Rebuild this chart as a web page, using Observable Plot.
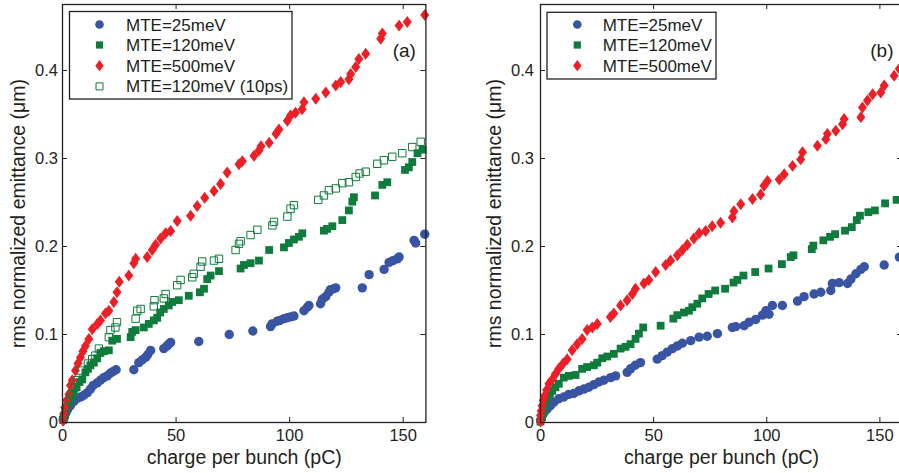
<!DOCTYPE html>
<html><head><meta charset="utf-8">
<script src="https://cdn.jsdelivr.net/npm/d3@7"></script>
<script src="https://cdn.jsdelivr.net/npm/@observablehq/plot@0.6"></script>
<style>
html,body{margin:0;padding:0;background:#fff;}
#wrap{position:relative;width:899px;height:473px;overflow:hidden;font-family:"Liberation Sans",Arial,Helvetica,sans-serif;color:#231f20;}
.panel{position:absolute;top:0;}
#legend{position:absolute;left:0;top:0;}
</style></head><body><div id="wrap"></div>
<script>
// ---- labels / ticks ----
const xTicks = [0, 50, 100, 150];
const yTicks = [0, 0.1, 0.2, 0.3, 0.4];
const xLabel = "charge per bunch (pC)";
const yLabel = "rms normalized emittance (\u03bcm)";
const seriesNamesA = ["MTE=25meV", "MTE=120meV", "MTE=500meV", "MTE=120meV (10ps)"];
const seriesNamesB = ["MTE=25meV", "MTE=120meV", "MTE=500meV"];

// ---- panel (a) ----
const a25x = [0.3,0.8,1.5,2.3,3.5,5,6.3,8,9.4,11,12.3,13.5,15.3,16.7,18.2,19.7,21,22.3,23.6,31.4,33.6,35,36.6,37.5,38.8,44.6,46,46.8,47.6,60,73.4,83.8,91.6,92.3,94.5,95.8,97.5,99,100.4,101.9,106.3,107.8,108.5,113.6,114.4,115.9,117.3,118,119.5,120.3,132,135,141.6,143.8,145.5,147.4,148.2,154.8,155.5,159.5];
const a25y = [0.003,0.006,0.011,0.015,0.019,0.024,0.027,0.029,0.031,0.034,0.038,0.042,0.045,0.048,0.051,0.053,0.056,0.058,0.060,0.060,0.068,0.071,0.074,0.077,0.082,0.084,0.087,0.089,0.091,0.092,0.100,0.104,0.109,0.112,0.115,0.116,0.118,0.119,0.120,0.121,0.127,0.131,0.133,0.135,0.140,0.143,0.148,0.151,0.152,0.153,0.153,0.168,0.174,0.182,0.184,0.186,0.188,0.207,0.204,0.214];
const a120x = [0.3,0.8,1.3,2,2.8,3.8,5,6.2,7.5,8.7,10.1,11.2,12.3,13.8,15.3,16.7,18.2,20.4,21.9,24,30,30.7,32.2,35.8,38,40.2,41.7,43,44.6,46.8,48.3,51.2,55.6,60.5,62.3,63.7,65.2,68.9,78.4,79.9,82.8,86.5,91,97.5,99.7,101.9,104.1,105.6,115.1,116.5,118.8,123.2,126.1,127.6,128.3,137.6,140.8,143,150.8,152.5,154,156.3,158.5];
const a120y = [0.003,0.008,0.012,0.017,0.023,0.029,0.034,0.040,0.046,0.049,0.057,0.061,0.065,0.068,0.073,0.079,0.081,0.082,0.093,0.095,0.097,0.103,0.105,0.108,0.112,0.116,0.119,0.125,0.129,0.133,0.137,0.139,0.144,0.148,0.152,0.163,0.167,0.172,0.175,0.179,0.181,0.184,0.196,0.199,0.204,0.208,0.211,0.215,0.218,0.220,0.223,0.230,0.241,0.251,0.256,0.258,0.270,0.273,0.287,0.290,0.296,0.306,0.310];
const a500x = [0.3,0.6,1,1.8,2.8,3.5,4.3,5.7,6.8,7.9,9,10.1,11.6,13.1,15.3,16.7,18.9,20.4,22.6,24,25,29.2,31.4,32.2,37.3,39.5,41,43.2,45.4,47.6,50.5,56.4,59.3,62.6,66.7,69.6,72.5,77.7,79.2,84.3,86.5,87.4,91,94,95.3,99,100.4,102.6,105.5,106.3,111.5,115.9,120.3,122.5,126.1,126.9,129.1,130.5,133.5,140.1,140.8,148.2,151.8,159.5];
const a500y = [0.002,0.010,0.017,0.025,0.032,0.042,0.048,0.059,0.067,0.074,0.081,0.087,0.095,0.106,0.112,0.116,0.124,0.127,0.137,0.148,0.160,0.167,0.181,0.186,0.188,0.196,0.202,0.209,0.215,0.2175,0.229,0.235,0.246,0.2555,0.263,0.271,0.284,0.2935,0.297,0.303,0.309,0.314,0.318,0.328,0.333,0.343,0.349,0.352,0.356,0.364,0.368,0.375,0.383,0.387,0.390,0.396,0.404,0.413,0.419,0.436,0.442,0.451,0.455,0.463];
const a10psx = [0.6,2,3.5,4.3,5.5,6.5,7.9,11.2,13.1,14.5,16,20.4,21.1,23.3,24,32.2,32.9,34.4,40.2,40.5,44.6,45.4,50.5,52,57.1,57.8,60.8,61.5,66.7,68.9,76.2,77.7,78.4,82.8,85.8,92.4,93.1,99,100.4,101.9,112.6,115.1,117.3,120.3,123.2,126.1,129.1,130.8,133.5,138.6,141.5,145.2,149.6,154,157.7];
const a10psy = [0.006,0.017,0.027,0.032,0.040,0.048,0.059,0.067,0.072,0.076,0.084,0.097,0.105,0.108,0.114,0.118,0.127,0.129,0.132,0.139,0.141,0.146,0.156,0.162,0.165,0.169,0.177,0.183,0.184,0.186,0.196,0.203,0.206,0.213,0.219,0.224,0.228,0.234,0.243,0.247,0.253,0.258,0.264,0.266,0.272,0.273,0.279,0.283,0.285,0.294,0.298,0.302,0.306,0.313,0.319];

// ---- panel (b) ----
const b25x = [0,0.7,1.5,2.9,4.4,5.9,8.1,10.3,12.5,14.7,17,19.2,21.4,23.6,25.8,28,31,33.2,38.3,39.8,41.9,44.2,51.6,53.8,56,58.3,60.5,62.7,66.4,70.1,73.7,78.2,84.8,86.3,90,92.2,95.1,98.1,99.6,101,102.5,106.9,113.6,116.5,120.9,123.9,128.3,129,132,135.7,137.2,139.4,141.6,143.1,151.9,158.6];
const b25y = [0.002,0.008,0.011,0.015,0.019,0.023,0.027,0.029,0.032,0.033,0.036,0.038,0.040,0.043,0.046,0.048,0.051,0.053,0.057,0.061,0.065,0.068,0.072,0.076,0.080,0.084,0.087,0.090,0.093,0.097,0.098,0.101,0.108,0.109,0.110,0.114,0.117,0.122,0.127,0.123,0.133,0.133,0.138,0.143,0.146,0.148,0.150,0.158,0.159,0.158,0.163,0.169,0.174,0.177,0.179,0.188];
const b120x = [0,0.7,1.5,2.2,2.9,4.1,5.2,6.6,8.1,10.3,12.5,15.5,18.4,20.6,23.6,25.1,27.3,29.5,32.4,35.4,37.6,39.8,42,43.5,45.4,53.1,58.7,60.5,63.4,65.6,67.1,69.3,71.5,74.3,77.2,81.6,85.3,87,89.7,94.9,100.8,106.7,110.6,111.8,119.9,120.6,125,128,130.2,134.6,137.6,139.8,141.2,144.9,147.8,152.3,157.4];
const b120y = [0.001,0.006,0.013,0.021,0.027,0.032,0.036,0.040,0.044,0.051,0.053,0.054,0.061,0.063,0.065,0.068,0.073,0.075,0.078,0.084,0.086,0.089,0.095,0.101,0.108,0.110,0.118,0.122,0.125,0.127,0.131,0.135,0.141,0.146,0.150,0.152,0.159,0.162,0.167,0.171,0.175,0.180,0.188,0.190,0.197,0.201,0.207,0.211,0.214,0.218,0.222,0.230,0.235,0.239,0.241,0.249,0.253];
const b500x = [0,0,0.3,0.7,1.2,1.8,2.7,3.7,5.2,6.6,8.1,10,11.8,14,16.2,18.4,20.6,22.9,25.1,30.9,32.4,35.4,38.3,40.6,42,45.7,47.9,50.9,55.3,57.5,60.5,62.7,64.9,67.8,70.1,73,75.9,79.6,84.8,85.5,88.5,93.7,97.3,98.8,100.3,105.5,107.7,111.4,115,115.8,122.4,126.1,126.8,130.5,133.5,134.2,141.6,142.3,144.5,146.8,150.4,151.9,156.3,158.6,160];
const b500y = [0.001,0.008,0.013,0.019,0.025,0.030,0.037,0.044,0.049,0.055,0.061,0.067,0.072,0.082,0.089,0.095,0.105,0.108,0.112,0.120,0.124,0.133,0.139,0.146,0.152,0.158,0.162,0.171,0.179,0.184,0.190,0.196,0.202,0.209,0.215,0.2175,0.223,0.227,0.233,0.240,0.248,0.254,0.259,0.269,0.2745,0.276,0.282,0.2916,0.299,0.307,0.3145,0.322,0.328,0.3316,0.339,0.345,0.347,0.358,0.366,0.373,0.375,0.383,0.394,0.402,0.405];

// ---- styling ----
const BLUE = "#3a54a4", GREEN = "#0f7b3c", RED = "#ec1f26", INK = "#231f20";
const FONT = "'Liberation Sans', Arial, Helvetica, sans-serif";
const R_CIRCLE = 4.7, R_SQUARE = 3.9, R_DIAMOND = 4.9, R_OPEN = 3.7;
const squareSym = {draw(ctx, size) { const r = Math.sqrt(size / Math.PI); ctx.rect(-r, -r, 2 * r, 2 * r); }};
const diamondSym = {draw(ctx, size) { const r = Math.sqrt(size / Math.PI); const w = r * 0.92, h = r * 1.22;
  ctx.moveTo(0, -h); ctx.lineTo(w, 0); ctx.lineTo(0, h); ctx.lineTo(-w, 0); ctx.closePath(); }};

const zip = (xs, ys) => xs.map((x, i) => ({x, y: ys[i]}));
const H = 473, MT = 4, MB = 51;

function panel({width, marginLeft, marginRight, series, tag, tagDx, yLabelDx, yPad}) {
  const innerW = width - marginLeft - marginRight;
  const innerH = H - MT - MB;
  const marks = [
    Plot.axisX({ticks: xTicks, tickSize: 0, tickPadding: 7, label: null, fontSize: 16.5}),
    Plot.axisY({ticks: yTicks, tickSize: 0, tickPadding: yPad, label: null, fontSize: 16.5,
      tickFormat: d => d === 0 ? "0" : d3.format(".1f")(d)}),
    Plot.tickX(xTicks, {x: d => d, insetTop: innerH - 5, stroke: INK, strokeWidth: 1}),
    Plot.tickX(xTicks, {x: d => d, insetBottom: innerH - 5, stroke: INK, strokeWidth: 1}),
    Plot.tickY(yTicks, {y: d => d, insetRight: innerW - 5, stroke: INK, strokeWidth: 1}),
    Plot.tickY(yTicks, {y: d => d, insetLeft: innerW - 5, stroke: INK, strokeWidth: 1}),
  ];
  for (const s of series) {
    if (s.type === "circle") marks.push(Plot.dot(s.data, {x: "x", y: "y", r: R_CIRCLE, fill: s.color}));
    else if (s.type === "square") marks.push(Plot.dot(s.data, {x: "x", y: "y", r: R_SQUARE, symbol: squareSym, fill: s.color}));
    else if (s.type === "diamond") marks.push(Plot.dot(s.data, {x: "x", y: "y", r: R_DIAMOND, symbol: diamondSym, fill: s.color}));
    else marks.push(Plot.dot(s.data, {x: "x", y: "y", r: R_OPEN, symbol: squareSym, fill: "none", stroke: s.color, strokeWidth: 1}));
  }
  marks.push(
    Plot.frame({stroke: INK, strokeWidth: 1.3}),
    Plot.text([xLabel], {frameAnchor: "bottom", dy: 35.5, textAnchor: "middle", lineAnchor: "middle", fontSize: 19.5, fill: INK}),
    Plot.text([yLabel], {frameAnchor: "left", dx: yLabelDx, rotate: -90, textAnchor: "middle", lineAnchor: "middle", fontSize: 19.5, fill: INK}),
    Plot.text([tag], {frameAnchor: "top-right", dx: tagDx, dy: 46, textAnchor: "end", lineAnchor: "middle", fontSize: 19, fill: INK})
  );
  return Plot.plot({
    width, height: H, marginLeft, marginRight, marginTop: MT, marginBottom: MB,
    x: {domain: [0, 160], axis: null},
    y: {domain: [0, 0.475], axis: null},
    style: {fontFamily: FONT, fontSize: "16.5px", color: INK, background: "transparent", overflow: "visible"},
    marks
  });
}

const wrap = document.getElementById("wrap");
const pa = panel({width: 450, marginLeft: 62, marginRight: 24.6, tag: "(a)", tagDx: -10, yLabelDx: -44, yPad: 4.5,
  series: [
    {type: "circle", color: BLUE, data: zip(a25x, a25y)},
    {type: "square", color: GREEN, data: zip(a120x, a120y)},
    {type: "diamond", color: RED, data: zip(a500x, a500y)},
    {type: "open", color: GREEN, data: zip(a10psx, a10psy)}
  ]});
pa.classList.add("panel"); pa.style.left = "0px";
wrap.appendChild(pa);

const pb = panel({width: 453, marginLeft: 90, marginRight: 1, tag: "(b)", tagDx: -9, yLabelDx: -46, yPad: 6.5,
  series: [
    {type: "circle", color: BLUE, data: zip(b25x, b25y)},
    {type: "square", color: GREEN, data: zip(b120x, b120y)},
    {type: "diamond", color: RED, data: zip(b500x, b500y)}
  ]});
pb.classList.add("panel"); pb.style.left = "450px";
wrap.appendChild(pb);

// ---- legends ----
const lg = d3.select(wrap).append("svg").attr("id", "legend").attr("width", 899).attr("height", 473)
  .style("font-family", FONT);
const symDefs = [
  {type: d3.symbolCircle, size: Math.PI * 4.3 * 4.3, fill: BLUE},
  {type: squareSym, size: Math.PI * 3.6 * 3.6, fill: GREEN},
  {type: diamondSym, size: Math.PI * 4.6 * 4.6, fill: RED},
  {type: squareSym, size: Math.PI * 3.5 * 3.5, fill: "none", stroke: GREEN}
];
function legend(names, box, mx, tx, rows) {
  lg.append("rect").attr("x", box[0]).attr("y", box[1]).attr("width", box[2]).attr("height", box[3])
    .attr("fill", "#fff").attr("stroke", INK).attr("stroke-width", 1.3);
  names.forEach((n, i) => {
    const s = symDefs[i], y = rows[i];
    lg.append("path").attr("d", d3.symbol().type(s.type).size(s.size)())
      .attr("transform", `translate(${mx},${y})`).attr("fill", s.fill)
      .attr("stroke", s.stroke || "none").attr("stroke-width", 1);
    lg.append("text").attr("x", tx).attr("y", y + 6).attr("font-size", 17).attr("fill", INK).text(n);
  });
}
legend(seriesNamesA, [69.5, 11.5, 222.5, 87.5], 99.5, 126, [24.5, 45, 65.7, 86.4]);
legend(seriesNamesB, [547, 12.3, 169, 66.7], 577.3, 602.7, [24.5, 45, 65.7]);
</script></body></html>
